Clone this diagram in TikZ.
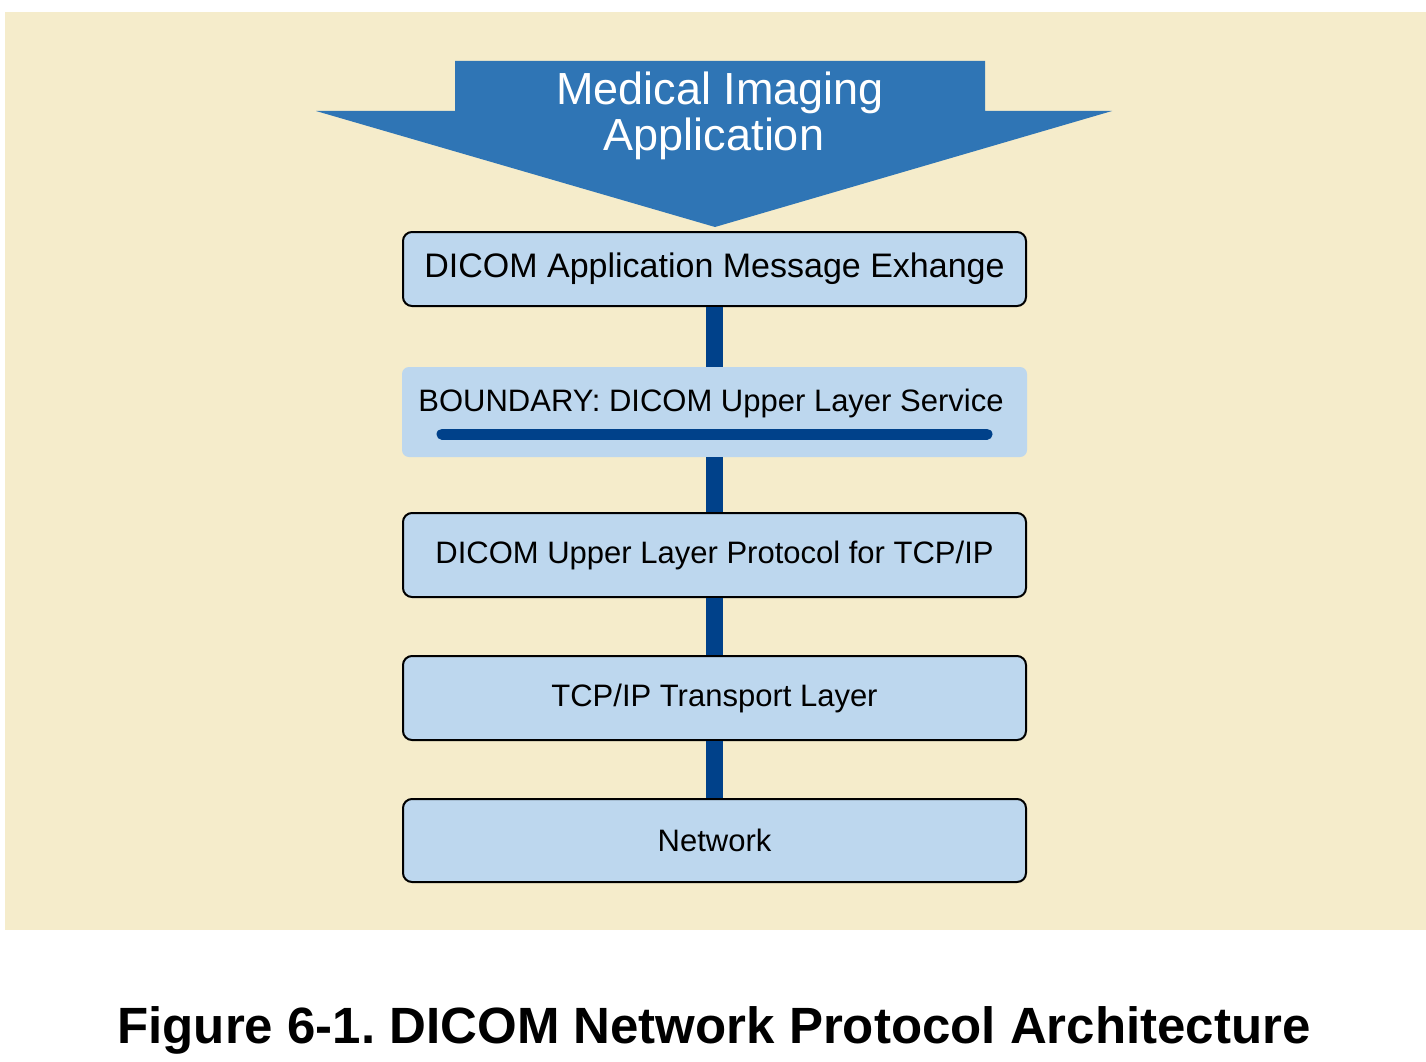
\documentclass[tikz,border=0pt]{standalone}
\usepackage{fontspec}
\setmainfont{Liberation Sans}
\frenchspacing
\definecolor{bgbeige}{HTML}{F5ECCB}
\definecolor{arrowblue}{HTML}{2F75B5}
\definecolor{boxblue}{HTML}{BDD7EE}
\definecolor{darkblue}{HTML}{00418A}
\begin{document}
\begin{tikzpicture}[x=1pt,y=-1pt,
  layerbox/.style={draw=black, line width=2pt, fill=boxblue, rounded corners=9pt,
    minimum width=623pt, inner sep=0pt, font=\fontsize{31}{37}\selectfont},
  linkline/.style={draw=darkblue, line width=17pt}]
\useasboundingbox (0,0) rectangle (1426,1062);
\fill[white] (0,0) rectangle (1426,1062);
\fill[bgbeige] (5,12) rectangle (1426,930);
% big arrow
\fill[arrowblue] (455,61) -- (985,61) -- (985,111) -- (1112,111) -- (715,227) -- (316,111) -- (455,111) -- cycle;
\node[text=white, align=center, font=\fontsize{45}{46}\selectfont] (app) at (720,116) {Medical Imaging\\Application\hspace*{12pt}};
% boxes
\node[layerbox, minimum height=74pt, font=\fontsize{34}{40}\selectfont] (ame) at (714.5,269) {DICOM Application Message Exhange};
\node[fill=boxblue, rounded corners=7pt, minimum width=625pt, minimum height=90pt, inner sep=0pt] (bnd) at (714.5,412) {};
\node[font=\fontsize{31}{37}\selectfont] (bndtxt) at (711,403) {BOUNDARY: DICOM Upper Layer Service};
\coordinate (bl) at (442,434);
\coordinate (br) at (987,434);
\draw[darkblue, line width=11pt, line cap=round] (bl) -- (br);
\node[layerbox, minimum height=84pt] (ulp) at (714.5,555) {DICOM Upper Layer Protocol for TCP/IP};
\node[layerbox, minimum height=84pt] (tcp) at (714.5,698) {TCP/IP Transport Layer};
\node[layerbox, minimum height=83pt] (net) at (714.5,840.5) {Network};
% connectors
\draw[linkline] (ame.south) -- (bnd.north);
\draw[linkline] (bnd.south) -- (ulp.north);
\draw[linkline] (ulp.south) -- (tcp.north);
\draw[linkline] (tcp.south) -- (net.north);
% caption
\node[font=\fontsize{51}{60}\selectfont\bfseries] (cap) at (714,1030) {Figure 6-1. DICOM Network Protocol Architecture};
\end{tikzpicture}
\end{document}
